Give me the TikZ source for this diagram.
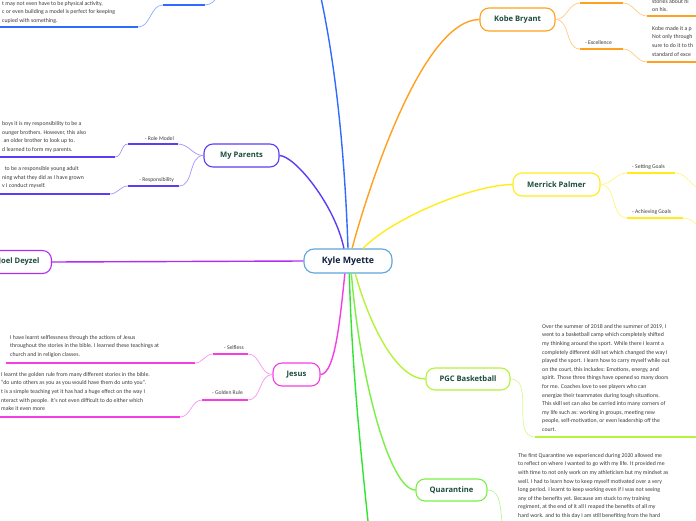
\documentclass[tikz,border=0pt]{standalone}
\usepackage{fontspec}
\setmainfont{Carlito}
\newfontfamily\titlefont{Open Sans}
\usetikzlibrary{positioning}

\definecolor{kmblue}{HTML}{5DA5DA}
\definecolor{kmnavy}{HTML}{10213F}
\definecolor{kmtitle}{HTML}{1B4D3E}
\definecolor{kmtext}{HTML}{3A3A3A}
\definecolor{brblue}{HTML}{2F6BFF}
\definecolor{brindigo}{HTML}{5B3DF5}
\definecolor{brpurple}{HTML}{B22CF2}
\definecolor{brorange}{HTML}{FFA01E}
\definecolor{bryellow}{HTML}{FFEC1A}
\definecolor{brlime}{HTML}{B5F23A}
\definecolor{brgreen}{HTML}{7BEF45}
\definecolor{brbright}{HTML}{2FE52F}
\definecolor{brmagenta}{HTML}{F53DE3}

\begin{document}
\begin{tikzpicture}[
    x=1pt, y=-1pt,
    central/.style={
        draw=kmblue,
        line width=1.1pt,
        rounded corners=10pt,
        fill=white,
        minimum width=88pt,
        minimum height=24pt,
        font=\titlefont\bfseries\fontsize{8.8}{10}\selectfont,
        text=kmnavy
    },
    topic/.style={
        draw=#1,
        line width=1.1pt,
        rounded corners=9pt,
        fill=white,
        minimum height=23pt,
        font=\titlefont\bfseries\fontsize{7.6}{9}\selectfont,
        text=kmtitle
    },
    branch/.style={draw=#1, line width=1.4pt},
    twig/.style={draw=#1!55!white, line width=0.7pt},
    uline/.style={draw=#1, line width=1.7pt},
    lbl/.style={font=\fontsize{5.6}{7}\selectfont, text=kmtext, inner sep=0pt},
    body/.style={font=\fontsize{5.8}{8.6}\selectfont, text=kmtext, align=left,
        inner sep=0pt, anchor=north west}
]
\useasboundingbox (0,0) rectangle (696,520);
\clip (0,0) rectangle (696,520);

% Nodo central
\node[central] (kyle) at (348,261) {Kyle Myette};

% Temas
\node[topic=brindigo, minimum width=75pt] (parents) at (241.5,155.5) {My Parents};
\node[topic=brpurple, anchor=east, inner xsep=12pt] (joel) at (52,262) {Joel Deyzel};
\node[topic=brmagenta, minimum width=47pt] (jesus) at (296.5,374.5) {Jesus};
\node[topic=brorange, minimum width=75pt] (kobe) at (517.5,19.5) {Kobe Bryant};
\node[topic=bryellow, minimum width=87pt] (merrick) at (556.5,184.5) {Merrick Palmer};
\node[topic=brlime, minimum width=84pt, minimum height=22pt] (pgc) at (468,379) {PGC Basketball};
\node[topic=brgreen, minimum width=71pt, minimum height=22pt] (quarantine) at (451.5,490) {Quarantine};

% Puntos fuera del dibujo
\coordinate (blueoff) at (312,-40);
\coordinate (greenoff) at (373,570);

% Ramas principales
\draw[branch=brblue] (kyle.90) .. controls (345,160) and (336,50) .. (blueoff);
\draw[branch=brindigo] (kyle.108) .. controls (335,205) and (295,156) .. (parents.east);
\draw[branch=brorange] (kyle.72) .. controls (365,200) and (420,20) .. (kobe.west);
\draw[branch=bryellow] (kyle.40) .. controls (390,220) and (470,185) .. (merrick.west);
\draw[branch=brpurple] (kyle.west) -- (joel.east);
\draw[branch=brmagenta] (kyle.256) .. controls (340,320) and (335,374) .. (jesus.east);
\draw[branch=brlime] (kyle.300) .. controls (368,320) and (395,379) .. (pgc.west);
\draw[branch=brgreen] (kyle.285) .. controls (360,380) and (390,490) .. (quarantine.west);
\draw[branch=brbright] (kyle.276) .. controls (352,380) and (364,480) .. (greenoff);

% Rama azul (arriba)
\coordinate (top-off) at (232,-14);
\coordinate (top-l) at (163,5);
\coordinate (top-r) at (205,5);
\coordinate (topt-r) at (138,27);
\coordinate (topt-l) at (-5,27);
\draw[twig=brblue] (top-off) to[out=180,in=0] (top-r);
\draw[uline=brblue] (top-l) -- (top-r);
\draw[twig=brblue] (top-l) to[out=180,in=0] (topt-r);
\draw[uline=brblue] (topt-l) -- (topt-r);
\node[body] (toptext) at (2,1) {t may not even have to be physical activity,\\
    c or even building a model is perfect for keeping\\
    cupied with something.};

% My Parents
\coordinate (role-l) at (128,144);
\coordinate (role-r) at (178,144);
\coordinate (role-tr) at (115,157);
\coordinate (role-tl) at (-5,157);
\draw[twig=brindigo] (parents.west) to[out=180,in=0] (role-r);
\draw[uline=brindigo] (role-l) -- (role-r);
\draw[twig=brindigo] (role-l) to[out=180,in=0] (role-tr);
\draw[uline=brindigo] (role-tl) -- (role-tr);
\node[lbl, anchor=base east] (role) at (174,140.5) {- Role Model};
\node[body] (roletext) at (2,121.5) {boys it is my responsibility to be a\\
    ounger brothers. However, this also\\
    \ an older brother to look up to.\\
    d learned to form my parents.};

\coordinate (resp-l) at (128,186);
\coordinate (resp-r) at (179,186);
\coordinate (resp-tr) at (110,194);
\coordinate (resp-tl) at (-5,194);
\draw[twig=brindigo] (parents.west) to[out=180,in=0] (resp-r);
\draw[uline=brindigo] (resp-l) -- (resp-r);
\draw[twig=brindigo] (resp-l) to[out=180,in=0] (resp-tr);
\draw[uline=brindigo] (resp-tl) -- (resp-tr);
\node[lbl, anchor=base east] (resp) at (174,181.5) {- Responsibility};
\node[body] (resptext) at (2,166.5) {\ \ to be a responsible young adult\\
    ning what they did as I have grown\\
    v I conduct myself.};

% Jesus
\coordinate (self-l) at (213,354);
\coordinate (self-r) at (248,354);
\coordinate (self-tr) at (195,363);
\coordinate (self-tl) at (6,363);
\draw[twig=brmagenta] (jesus.west) to[out=180,in=0] (self-r);
\draw[uline=brmagenta] (self-l) -- (self-r);
\draw[twig=brmagenta] (self-l) to[out=180,in=0] (self-tr);
\draw[uline=brmagenta] (self-tl) -- (self-tr);
\node[lbl, anchor=base east] (self) at (244,349.5) {- Selfless};
\node[body] (selftext) at (10,335) {I have learnt selflessness through the actions of Jesus\\
    throughout the stories in the bible. I learned these teachings at\\
    church and in religion classes.};

\coordinate (gold-l) at (202,400);
\coordinate (gold-r) at (248,400);
\coordinate (gold-tr) at (180,417);
\coordinate (gold-tl) at (-5,417);
\draw[twig=brmagenta] (jesus.west) to[out=180,in=0] (gold-r);
\draw[uline=brmagenta] (gold-l) -- (gold-r);
\draw[twig=brmagenta] (gold-l) to[out=180,in=0] (gold-tr);
\draw[uline=brmagenta] (gold-tl) -- (gold-tr);
\node[lbl, anchor=base east] (gold) at (243,394.5) {- Golden Rule};
\node[body] (goldtext) at (1,372) {I learnt the golden rule from many different stories in the bible.\\
    “do unto others as you as you would have them do unto you”.\\
    t is a simple teaching yet it has had a huge effect on the way I\\
    nteract with people. It’s not even difficult to do either which\\
    make it even more};

% Kobe Bryant
\coordinate (kob-l) at (580,3);
\coordinate (kob-r) at (623,3);
\coordinate (kobt-l) at (647,16);
\coordinate (kobt-r) at (700,16);
\draw[twig=brorange] (kobe.east) to[out=0,in=180] (kob-l);
\draw[uline=brorange] (kob-l) -- (kob-r);
\draw[twig=brorange] (kob-r) to[out=0,in=180] (kobt-l);
\draw[uline=brorange] (kobt-l) -- (kobt-r);
\node[body] (kobtext) at (652,-1) {stories about hi\\on his.};

\coordinate (exc-l) at (580,49);
\coordinate (exc-r) at (623,49);
\coordinate (exct-l) at (647,62);
\coordinate (exct-r) at (700,62);
\draw[twig=brorange] (kobe.east) to[out=0,in=180] (exc-l);
\draw[uline=brorange] (exc-l) -- (exc-r);
\draw[twig=brorange] (exc-r) to[out=0,in=180] (exct-l);
\draw[uline=brorange] (exct-l) -- (exct-r);
\node[lbl, anchor=base west] (exc) at (585,44.5) {- Excellence};
\node[body] (exctext) at (652,26) {Kobe made it a p\\
    Not only through\\
    sure to do it to th\\
    standard of exce};

% Merrick Palmer
\coordinate (set-l) at (627,173);
\coordinate (set-r) at (675,173);
\coordinate (set-off) at (705,190);
\draw[twig=bryellow] (merrick.east) to[out=0,in=180] (set-l);
\draw[uline=bryellow] (set-l) -- (set-r);
\draw[twig=bryellow] (set-r) to[out=0,in=180] (set-off);
\node[lbl, anchor=base west] (set) at (632,168.5) {- Setting Goals};

\coordinate (ach-l) at (627,218);
\coordinate (ach-r) at (683,218);
\coordinate (ach-off) at (712,232);
\draw[twig=bryellow] (merrick.east) to[out=0,in=180] (ach-l);
\draw[uline=bryellow] (ach-l) -- (ach-r);
\draw[twig=bryellow] (ach-r) to[out=0,in=180] (ach-off);
\node[lbl, anchor=base west] (ach) at (632,213.5) {- Achieving Goals};

% PGC Basketball
\coordinate (pgc-l) at (535,437);
\coordinate (pgc-r) at (700,437);
\draw[twig=brlime] (pgc.east) to[out=0,in=180] (pgc-l);
\draw[uline=brlime] (pgc-l) -- (pgc-r);
\node[body] (pgctext) at (542,324) {Over the summer of 2018 and the summer of 2019, I\\
    went to a basketball camp which completely shifted\\
    my thinking around the sport. While there I learnt a\\
    completely different skill set which changed the way I\\
    played the sport. I learn how to carry myself while out\\
    on the court, this includes: Emotions, energy, and\\
    spirit. Those three things have opened so many doors\\
    for me. Coaches love to see players who can\\
    energize their teammates during tough situations.\\
    This skill set can also be carried into many corners of\\
    my life such as: working in groups, meeting new\\
    people, self-motivation, or even leadership off the\\
    court.};

% Quarantine
\coordinate (quar-off) at (515,540);
\draw[twig=brgreen] (quarantine.east) to[out=0,in=180] (quar-off);
\node[body] (quartext) at (518,453) {The first Quarantine we experienced during 2020 allowed me\\
    to reflect on where I wanted to go with my life. It provided me\\
    with time to not only work on my athleticism but my mindset as\\
    well. I had to learn how to keep myself motivated over a very\\
    long period. I learnt to keep working even if I was not seeing\\
    any of the benefits yet. Because am stuck to my training\\
    regiment, at the end of it all I reaped the benefits of all my\\
    hard work. and to this day I am still benefiting from the hard};

\end{tikzpicture}
\end{document}
